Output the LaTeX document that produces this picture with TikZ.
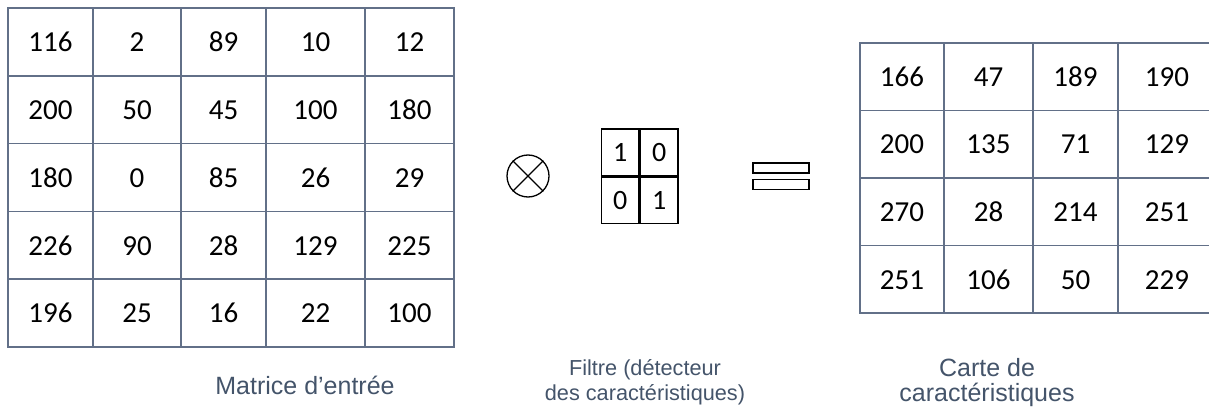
\documentclass[tikz,border=0pt]{standalone}
\usepackage{fontspec}
\setmainfont{Carlito}
\newfontfamily\legende{Liberation Sans}
\usepackage{xcolor}
\definecolor{grille}{RGB}{98, 112, 136}
\definecolor{ardoise}{RGB}{68, 84, 106}
\usetikzlibrary{positioning}

\def\colsentree{{8,93,181,266,365,454}}
\def\colscarte{{860,944,1033,1118,1216}}

\begin{document}
\begin{tikzpicture}[x=1pt, y=-1pt,
  cell/.style={rectangle, draw=grille, line width=1.6pt, inner sep=0pt, text height=19.5pt, text depth=0pt, font=\fontsize{29}{30}\selectfont},
  filtre/.style={rectangle, draw=black, line width=1.4pt, inner sep=0pt, minimum width=37.5pt, minimum height=46.5pt, text height=18.5pt, text depth=0pt, font=\fontsize{28}{30}\selectfont},
  signe/.style={draw=black, line width=1.3pt, inner sep=0pt},
  legendebox/.style={text=ardoise, align=center}
]
  \useasboundingbox (0,0) rectangle (1209,414);

  % matrice d'entree
  \foreach \ligne [count=\r] in {{116,2,89,10,12},{200,50,45,100,180},{180,0,85,26,29},{226,90,28,129,225},{196,25,16,22,100}} {
    \foreach \v [count=\c] in \ligne {
      \pgfmathsetmacro\xa{\colsentree[\c-1]}
      \pgfmathsetmacro\xb{\colsentree[\c]}
      \pgfmathsetmacro\w{\xb-\xa}
      \pgfmathsetmacro\y{8+67.8*(\r-1)+33.9}
      \node[cell, minimum width=\w pt, minimum height=67.8pt] (in-\r-\c) at ({(\xa+\xb)/2},\y) {\v};
    }
  }

  % produit de convolution
  \node[signe, circle, minimum size=42pt] (conv) at (528,176) {};
  \draw[line width=1.3pt] (conv.north west) -- (conv.south east);
  \draw[line width=1.3pt] (conv.north east) -- (conv.south west);

  % filtre 2x2
  \node[filtre] (f-1-1) at (620.25,152.25) {1};
  \node[filtre, right=0pt of f-1-1] (f-1-2) {0};
  \node[filtre, below=0pt of f-1-1] (f-2-1) {0};
  \node[filtre, right=0pt of f-2-1] (f-2-2) {1};

  % signe egal
  \node[signe, rectangle, minimum width=56pt, minimum height=10pt] (egal-h) at (781,168) {};
  \node[signe, rectangle, minimum width=56pt, minimum height=10pt, below=5pt of egal-h] (egal-b) {};

  % carte de caracteristiques
  \foreach \ligne [count=\r] in {{166,47,189,190},{200,135,71,129},{270,28,214,251},{251,106,50,229}} {
    \foreach \v [count=\c] in \ligne {
      \pgfmathsetmacro\xa{\colscarte[\c-1]}
      \pgfmathsetmacro\xb{\colscarte[\c]}
      \pgfmathsetmacro\w{\xb-\xa}
      \pgfmathsetmacro\y{43+67.5*(\r-1)+33.75}
      \node[cell, minimum width=\w pt, minimum height=67.5pt] (out-\r-\c) at ({(\xa+\xb)/2},\y) {\v};
    }
  }

  % legendes
  \node[legendebox, font=\legende\fontsize{25}{25}\selectfont] (lbl-entree) at (305,385) {Matrice d’entrée};
  \node[legendebox, font=\legende\fontsize{21.7}{25}\selectfont] (lbl-filtre) at (645,382.5) {Filtre (détecteur\\des caractéristiques)};
  \node[legendebox, font=\legende\fontsize{25}{25}\selectfont] (lbl-carte) at (987,382.5) {Carte de\\caractéristiques};
\end{tikzpicture}
\end{document}
